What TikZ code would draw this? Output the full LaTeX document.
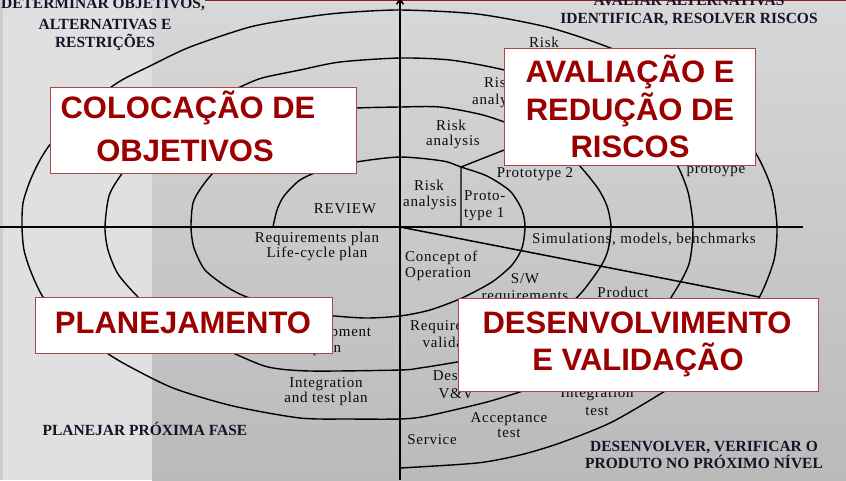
\documentclass[tikz,border=0pt]{standalone}
\usepackage{fontspec}
\setmainfont{Liberation Serif}
\newfontfamily\boxfont{Liberation Sans}
\newfontfamily\spacedserif[LetterSpace=5]{Liberation Serif}
\usetikzlibrary{arrows.meta}
\definecolor{bgleft}{RGB}{224,224,224}
\definecolor{bgedge}{RGB}{205,205,205}
\definecolor{bgtop}{RGB}{216,216,216}
\definecolor{bgbot}{RGB}{186,186,186}
\definecolor{boxborder}{RGB}{170,72,72}
\definecolor{boxred}{RGB}{155,0,0}
\definecolor{topred}{RGB}{150,30,30}
\definecolor{hdrcol}{RGB}{20,20,40}
\definecolor{inkcol}{RGB}{10,10,20}
\tikzset{
  spiral/.style={line width=1.4pt, draw=black, line join=round},
  axisline/.style={line width=1.5pt, draw=black},
  lbl/.style={font={\spacedserif\fontsize{15}{17}\selectfont}, inner sep=0pt, anchor=base, text=inkcol},
  hdr/.style={font={\bfseries\fontsize{15.5}{17}\selectfont}, inner sep=0pt, anchor=base, text=hdrcol},
  bigtxt/.style={font={\boxfont\bfseries\fontsize{31}{33}\selectfont}, inner sep=0pt, anchor=base, text=boxred},
  redbox/.style={draw=boxborder, fill=white, line width=1.3pt, anchor=north west, inner sep=0pt}
}
\begin{document}
\begin{tikzpicture}[x=1pt,y=-1pt]
\useasboundingbox (0,0) rectangle (846,480);
% background
\fill[bgleft] (0,0) rectangle (846,480);
\fill[bgedge] (0,0) rectangle (3,480);
\shade[top color=bgtop, bottom color=bgbot] (152,0) rectangle (846,480);
\draw[topred, line width=2.5pt] (205,0) -- (846,0);

% axes
\coordinate (O) at (400,227);
\coordinate (hl) at (0,227);
\coordinate (hr) at (803,227);
\coordinate (vt) at (400,-2);
\coordinate (vb) at (400,480);
\coordinate (diagend) at (759,297);
\draw[axisline] (hl) -- (hr);
\draw[axisline, -{Straight Barb[length=5pt,width=7pt]}] (vb) -- (vt);
\draw[axisline] (O) -- (diagend);

% spiral
\draw[spiral] plot[smooth, tension=0.45] coordinates {
 (273,227) (277,210) (284,196) (300,180) (325,169) (356,162) (400,157)
 (443,161) (461,167) (487,176) (510,191) (522,210) (525,227)
 (522,248) (512,265) (492,282) (462,298) (430,310) (400,316)
 (365,318) (325,315) (288,309) (247,297) (227,287) (205,270) (194,248) (191,227)
 (193,203) (201,188) (215,171) (245,146) (285,123) (325,111) (357,108) (400,107)
 (440,107) (483,115) (520,128) (550,143) (575,161) (597,187) (607,206) (611,227)
 (608,250) (601,266) (582,292) (555,318) (520,340) (485,356) (457,362) (420,368) (400,370)
 (310,371) (268,367) (233,353) (195,336) (162,318) (138,297) (118,274) (108,250) (105,227)
 (109,196) (121,175) (145,145) (185,112) (240,87) (262,78) (300,70) (340,62) (400,58)
 (450,60) (500,69) (560,85) (615,108) (655,138) (676,163) (688,192) (693,227)
 (689,264) (672,296) (645,333) (605,363) (565,380) (533,388) (487,402) (427,416) (400,419)
 (350,419) (300,418) (233,406) (173,388) (123,363) (95,345) (65,323) (43,297) (31,272) (24,250) (22,227)
 (23,203) (30,181) (40,160) (52,142) (80,112) (117,83) (150,66) (190,47) (250,27) (300,18) (340,13) (400,10)
 (477,14) (547,27) (600,44) (650,65) (700,95) (735,125) (758,157) (772,190) (777,227)
 (774,260) (760,296) (735,332) (700,368) (670,388) (612,422) (560,443) (520,455) (477,463) (400,468)
};
% prototype dividers
\coordinate (pj) at (461,167);
\coordinate (pb) at (461,227);
\coordinate (pr) at (560,128);
\draw[spiral] (pb) -- (pj) -- (pr);

% small labels
\node[lbl] (risk4) at (544,47) {Risk};
\node[lbl] (risk3a) at (499,87) {Risk};
\node[lbl] (risk3b) at (499,104) {analysis};
\node[lbl] (risk2a) at (451,130) {Risk};
\node[lbl] (risk2b) at (453,145) {analysis};
\node[lbl] (risk1a) at (429,190) {Risk};
\node[lbl] (risk1b) at (430,206) {analysis};
\node[lbl, anchor=base west] (proto1a) at (464,200) {Proto-};
\node[lbl, anchor=base west] (proto1b) at (464,217) {type 1};
\node[lbl] (proto2) at (535,177) {Prototype 2};
\node[lbl] (protoop) at (716,173) {protoype};
\node[lbl] (review) at (345,213) {REVIEW};
\node[lbl] (reqplan) at (317,242) {Requirements plan};
\node[lbl] (lcplan) at (317,257) {Life-cycle plan};
\node[lbl, anchor=base west] (concept) at (405,261) {Concept of};
\node[lbl, anchor=base west] (operation) at (405,277) {Operation};
\node[lbl, anchor=base west] (sims) at (532,243) {Simulations, models, benchmarks};
\node[lbl] (sw) at (525,283) {S/W};
\node[lbl] (swreq) at (525,300) {requirements};
\node[lbl] (product) at (623,297) {Product};
\node[lbl] (devplan) at (327,336) {Development};
\node[lbl] (devplanb) at (327,352) {plan};
\node[lbl] (integ) at (326,387) {Integration};
\node[lbl] (integb) at (326,402) {and test plan};
\node[lbl] (reqval) at (456,330) {Requirements};
\node[lbl] (reqvalb) at (456,347) {validation};
\node[lbl] (design) at (456,380) {Design};
\node[lbl] (designb) at (456,398) {V\&V};
\node[lbl] (inttest) at (597,397) {Integration};
\node[lbl] (inttestb) at (597,415) {test};
\node[lbl] (accept) at (509,422) {Acceptance};
\node[lbl] (acceptb) at (509,437) {test};
\node[lbl] (service) at (432,444) {Service};

% boxes
\node[redbox, minimum width=306pt, minimum height=86pt] (colbox) at (50,87) {};
\node[redbox, minimum width=251pt, minimum height=117pt] (avbox) at (504,48) {};
\node[redbox, minimum width=297pt, minimum height=56pt] (plbox) at (35,297) {};
\node[redbox, minimum width=360pt, minimum height=93pt] (dvbox) at (458,298) {};

\node[bigtxt] (colt1) at (188,118) {COLOCAÇÃO DE};
\node[bigtxt] (colt2) at (185,161) {OBJETIVOS};
\node[bigtxt] (avt1) at (630,82) {AVALIAÇÃO E};
\node[bigtxt] (avt2) at (630,120) {REDUÇÃO DE};
\node[bigtxt] (avt3) at (630,157) {RISCOS};
\node[bigtxt] (plt1) at (183,333) {PLANEJAMENTO};
\node[bigtxt] (dvt1) at (637,333) {DESENVOLVIMENTO};
\node[bigtxt] (dvt2) at (638,370) {E VALIDAÇÃO};

% quadrant headers
\node[hdr] (h1) at (103,8) {DETERMINAR OBJETIVOS,};
\node[hdr] (h2) at (105,29) {ALTERNATIVAS E};
\node[hdr] (h3) at (105,47) {RESTRIÇÕES};
\node[hdr] (h4) at (689,5) {AVALIAR ALTERNATIVAS};
\node[hdr] (h5) at (689,23) {IDENTIFICAR, RESOLVER RISCOS};
\node[hdr] (h6) at (145,435) {PLANEJAR PRÓXIMA FASE};
\node[hdr] (h7) at (704,451) {DESENVOLVER, VERIFICAR O};
\node[hdr] (h8) at (704,468) {PRODUTO NO PRÓXIMO NÍVEL};
\end{tikzpicture}
\end{document}
